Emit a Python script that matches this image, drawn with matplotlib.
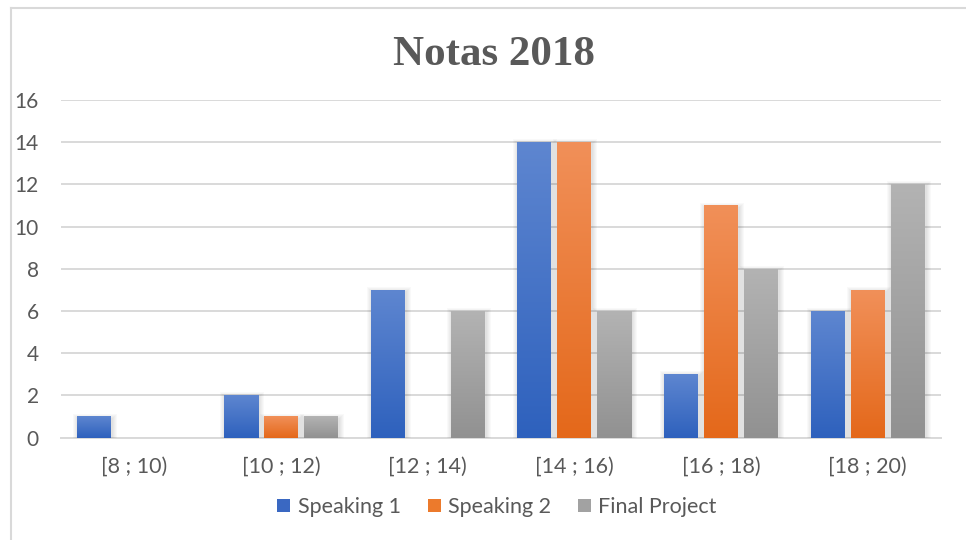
import numpy as np
import matplotlib
matplotlib.use("Agg")
import matplotlib.pyplot as plt
from matplotlib.colors import LinearSegmentedColormap
from matplotlib.patches import Rectangle, Patch
from matplotlib.lines import Line2D

categories = ["[8 ; 10)", "[10 ; 12)", "[12 ; 14)", "[14 ; 16)", "[16 ; 18)", "[18 ; 20)"]
series_names = ["Speaking 1", "Speaking 2", "Final Project"]
speaking1 = [1, 2, 7, 14, 3, 6]
speaking2 = [0, 1, 0, 14, 11, 7]
final_project = [0, 1, 6, 6, 8, 12]
y_ticks = [0, 2, 4, 6, 8, 10, 12, 14, 16]
title = "Notas 2018"

series = [speaking1, speaking2, final_project]
grad = [("#2E61BD", "#5E86D0"), ("#E4681A", "#F19059"), ("#919191", "#B3B3B3")]
solid = ["#3A68C2", "#EC7A2C", "#A2A2A2"]

W, H = 966, 540
fig = plt.figure(figsize=(W / 100, H / 100), dpi=100)
fig.patch.set_facecolor("white")

x0, x1 = 61, 941
y_top, y_bot = 100, 437.6
ax = fig.add_axes([x0 / W, 1 - y_bot / H, (x1 - x0) / W, (y_bot - y_top) / H])
ax.set_facecolor("white")

ncat = len(categories)
ax.set_xlim(-0.5, ncat - 0.5)
ax.set_ylim(0, 16)

cat_px = (x1 - x0) / ncat
bar_w = 34 / cat_px
step = 40 / cat_px
px_x = 1 / cat_px
px_y = 16 / (y_bot - y_top)

xs = np.arange(ncat)
for si, vals in enumerate(series):
    cmap = LinearSegmentedColormap.from_list("g%d" % si, [grad[si][0], grad[si][1]])
    offs = (si - 1) * step
    bars = ax.bar(xs + offs, vals, width=bar_w, color="none", zorder=3)
    for b, v in zip(bars, vals):
        if v <= 0:
            continue
        bx = b.get_x()
        # soft shadow
        for k in range(1, 6):
            ax.add_patch(Rectangle((bx + 1 * px_x - k * px_x, 0),
                                   bar_w + 2 * k * px_x, v + (k - 2) * px_y,
                                   facecolor="black", alpha=0.025, edgecolor="none", zorder=2))
        g = np.linspace(0, 1, 256).reshape(-1, 1)
        ax.imshow(g, extent=(bx, bx + bar_w, 0, v), origin="lower", cmap=cmap,
                  aspect="auto", zorder=3, interpolation="bilinear")

ax.set_xlim(-0.5, ncat - 0.5)
ax.set_ylim(0, 16)

ax.set_yticks(y_ticks)
ax.set_xticks(xs)
ax.set_xticklabels(categories)
ax.yaxis.grid(True, color="#D9D9D9", linewidth=1.4, zorder=0)
ax.set_axisbelow(True)
for s in ["left", "right", "top"]:
    ax.spines[s].set_visible(False)
ax.spines["bottom"].set_color("#D9D9D9")
ax.spines["bottom"].set_linewidth(1.4)
ax.spines["bottom"].set_zorder(1)

font = "Lato"
ax.tick_params(axis="both", length=0, labelcolor="#595959", labelsize=15.5)
ax.tick_params(axis="y", pad=16, labelsize=15)
ax.tick_params(axis="x", pad=14)
for lab in ax.get_xticklabels() + ax.get_yticklabels():
    lab.set_fontfamily(font)

fig.text(494 / W, 1 - 55 / H, title, ha="center", va="center",
         fontfamily="Liberation Serif", fontweight="bold", fontsize=31, color="#595959")

handles = [Patch(facecolor=solid[i], edgecolor="none") for i in range(3)]
leg = fig.legend(handles, series_names, loc="center", bbox_to_anchor=(497 / W, 1 - 507 / H),
                 ncol=3, frameon=False, prop={"family": font, "size": 15.5},
                 handlelength=0.6, handleheight=0.6, handletextpad=0.35, columnspacing=1.25)
for t in leg.get_texts():
    t.set_color("#595959")

# chart border
fig.add_artist(Line2D([11 / W, 11 / W], [0, 1 - 8 / H], transform=fig.transFigure,
                      color="#D9D9D9", linewidth=1.5))
fig.add_artist(Line2D([11 / W, 1], [1 - 8 / H, 1 - 8 / H], transform=fig.transFigure,
                      color="#D9D9D9", linewidth=1.5))

fig.savefig("out.png", dpi=100, facecolor="white")
